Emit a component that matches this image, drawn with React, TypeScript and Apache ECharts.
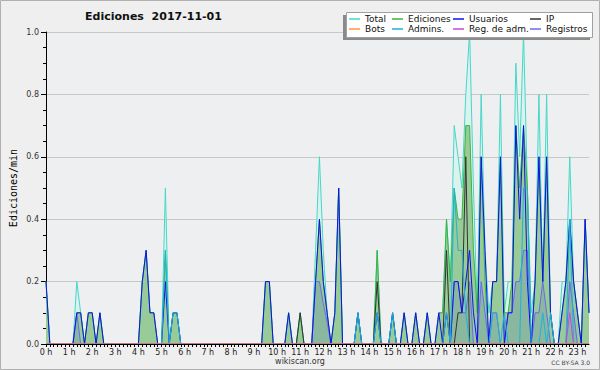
import React, { useEffect, useRef } from 'react';
import * as echarts from 'echarts';

// Hour tick labels (one every 6 ten-minute slots)
const HOUR_LABELS = [
  '0 h', '1 h', '2 h', '3 h', '4 h', '5 h', '6 h', '7 h', '8 h', '9 h', '10 h', '11 h',
  '12 h', '13 h', '14 h', '15 h', '16 h', '17 h', '18 h', '19 h', '20 h', '21 h', '22 h', '23 h',
];

// Ten-minute slots, values in edits per minute (one row per hour)
const TOTAL = [
  0.2, 0, 0, 0, 0, 0,
  0, 0, 0.2, 0.1, 0, 0.1,
  0.1, 0, 0.1, 0, 0, 0,
  0, 0, 0, 0, 0, 0,
  0, 0.2, 0.3, 0.1, 0.1, 0,
  0, 0.5, 0, 0.1, 0.1, 0,
  0, 0, 0, 0, 0, 0,
  0, 0, 0, 0, 0, 0,
  0, 0, 0, 0, 0, 0,
  0, 0, 0, 0.2, 0.2, 0,
  0, 0, 0, 0.1, 0, 0,
  0.1, 0, 0, 0, 0.3, 0.6,
  0.3, 0.1, 0, 0.1, 0.5, 0,
  0, 0, 0, 0.1, 0, 0,
  0, 0, 0.3, 0, 0, 0,
  0.1, 0, 0, 0.1, 0, 0,
  0.1, 0, 0, 0.1, 0, 0,
  0.1, 0.1, 0.4, 0.2, 0.7, 0.6,
  0.5, 0.8, 1.0, 0.5, 0.1, 0.8,
  0.3, 0.1, 0.2, 0.2, 0.8, 0.1,
  0.2, 0.2, 0.9, 0.6, 1.0, 0.5,
  0.1, 0.2, 0.8, 0.2, 0.8, 0.1,
  0, 0, 0.2, 0.2, 0.6, 0.2,
  0.1, 0, 0.4, 0.1,
];

const EDICIONES = [
  0.2, 0, 0, 0, 0, 0,
  0, 0, 0.1, 0.1, 0, 0.1,
  0.1, 0, 0.1, 0, 0, 0,
  0, 0, 0, 0, 0, 0,
  0, 0.2, 0.3, 0.1, 0.1, 0,
  0, 0.3, 0, 0.1, 0.1, 0,
  0, 0, 0, 0, 0, 0,
  0, 0, 0, 0, 0, 0,
  0, 0, 0, 0, 0, 0,
  0, 0, 0, 0.2, 0.2, 0,
  0, 0, 0, 0.1, 0, 0,
  0.1, 0, 0, 0, 0.2, 0.4,
  0.2, 0.1, 0, 0.1, 0.5, 0,
  0, 0, 0, 0.1, 0, 0,
  0, 0, 0.3, 0, 0, 0,
  0.1, 0, 0, 0.1, 0, 0,
  0.1, 0, 0, 0.1, 0, 0,
  0.1, 0.1, 0.4, 0.2, 0.5, 0.4,
  0.4, 0.7, 0.7, 0.3, 0.1, 0.6,
  0.2, 0, 0.2, 0.2, 0.6, 0.1,
  0.1, 0.2, 0.7, 0.5, 0.7, 0.5,
  0, 0.2, 0.6, 0.2, 0.6, 0.1,
  0, 0, 0.1, 0.2, 0.4, 0.2,
  0.1, 0, 0.4, 0.1,
];

const USUARIOS = [
  0.2, 0, 0, 0, 0, 0,
  0, 0, 0.1, 0.1, 0, 0.1,
  0.1, 0, 0.1, 0, 0, 0,
  0, 0, 0, 0, 0, 0,
  0, 0.2, 0.3, 0.1, 0.1, 0,
  0, 0.2, 0, 0.1, 0.1, 0,
  0, 0, 0, 0, 0, 0,
  0, 0, 0, 0, 0, 0,
  0, 0, 0, 0, 0, 0,
  0, 0, 0, 0.2, 0.2, 0,
  0, 0, 0, 0.1, 0, 0,
  0, 0, 0, 0, 0.2, 0.4,
  0.2, 0.1, 0, 0.1, 0.5, 0,
  0, 0, 0, 0.1, 0, 0,
  0, 0, 0.1, 0, 0, 0,
  0.1, 0, 0, 0.1, 0, 0,
  0.1, 0, 0, 0.1, 0, 0,
  0.1, 0, 0.1, 0, 0.2, 0.2,
  0.1, 0.2, 0.3, 0.1, 0, 0.6,
  0.3, 0, 0.2, 0.2, 0.6, 0,
  0.1, 0.1, 0.7, 0.4, 0.7, 0.2,
  0, 0.2, 0.6, 0.2, 0.6, 0.1,
  0, 0, 0.1, 0.2, 0.4, 0.2,
  0.1, 0, 0.4, 0.1,
];

const IP = [
  0, 0, 0, 0, 0, 0,
  0, 0, 0, 0, 0, 0,
  0, 0, 0, 0, 0, 0,
  0, 0, 0, 0, 0, 0,
  0, 0, 0, 0, 0, 0,
  0, 0, 0, 0, 0, 0,
  0, 0, 0, 0, 0, 0,
  0, 0, 0, 0, 0, 0,
  0, 0, 0, 0, 0, 0,
  0, 0, 0, 0, 0, 0,
  0, 0, 0, 0, 0, 0,
  0.1, 0, 0, 0, 0, 0,
  0, 0, 0, 0, 0, 0,
  0, 0, 0, 0, 0, 0,
  0, 0, 0.2, 0, 0, 0,
  0, 0, 0, 0, 0, 0,
  0, 0, 0, 0, 0, 0,
  0, 0, 0.3, 0, 0, 0.1,
  0.1, 0.6, 0, 0, 0, 0,
  0, 0, 0, 0, 0, 0,
  0, 0, 0, 0, 0, 0,
  0, 0, 0, 0, 0, 0,
  0, 0, 0, 0, 0, 0,
  0, 0, 0, 0,
];

const BOTS = [
  0, 0, 0, 0, 0, 0,
  0, 0, 0, 0, 0, 0,
  0, 0, 0, 0, 0, 0,
  0, 0, 0, 0, 0, 0,
  0, 0, 0, 0, 0, 0,
  0, 0, 0, 0, 0, 0,
  0, 0, 0, 0, 0, 0,
  0, 0, 0, 0, 0, 0,
  0, 0, 0, 0, 0, 0,
  0, 0, 0, 0, 0, 0,
  0, 0, 0, 0, 0, 0,
  0, 0, 0, 0, 0, 0,
  0, 0, 0, 0, 0, 0,
  0, 0, 0, 0, 0, 0,
  0, 0, 0, 0, 0, 0,
  0, 0, 0, 0, 0, 0,
  0, 0, 0, 0, 0, 0,
  0, 0, 0, 0, 0, 0,
  0, 0, 0, 0, 0, 0,
  0, 0, 0, 0, 0, 0,
  0, 0, 0, 0, 0, 0,
  0, 0, 0, 0, 0, 0,
  0, 0, 0, 0, 0, 0,
  0, 0, 0, 0,
];

const ADMINS = [
  0, 0, 0, 0, 0, 0,
  0, 0, 0, 0, 0, 0,
  0, 0, 0, 0, 0, 0,
  0, 0, 0, 0, 0, 0,
  0, 0, 0, 0, 0, 0,
  0, 0.3, 0, 0.1, 0.1, 0,
  0, 0, 0, 0, 0, 0,
  0, 0, 0, 0, 0, 0,
  0, 0, 0, 0, 0, 0,
  0, 0, 0, 0, 0, 0,
  0, 0, 0, 0, 0, 0,
  0, 0, 0, 0, 0, 0,
  0, 0, 0, 0, 0, 0,
  0, 0, 0, 0.1, 0, 0,
  0, 0, 0.1, 0, 0, 0,
  0.1, 0, 0, 0, 0, 0,
  0, 0, 0, 0, 0, 0,
  0, 0, 0.1, 0, 0.5, 0.3,
  0.3, 0.1, 0, 0, 0, 0,
  0, 0, 0.1, 0.1, 0, 0.1,
  0, 0, 0, 0, 0.5, 0.5,
  0, 0, 0, 0.1, 0, 0.1,
  0, 0, 0, 0, 0.4, 0,
  0, 0, 0, 0,
];

const REG_ADM = [
  0, 0, 0, 0, 0, 0,
  0, 0, 0, 0, 0, 0,
  0, 0, 0, 0, 0, 0,
  0, 0, 0, 0, 0, 0,
  0, 0, 0, 0, 0, 0,
  0, 0, 0, 0, 0, 0,
  0, 0, 0, 0, 0, 0,
  0, 0, 0, 0, 0, 0,
  0, 0, 0, 0, 0, 0,
  0, 0, 0, 0, 0, 0,
  0, 0, 0, 0, 0, 0,
  0, 0, 0, 0, 0, 0,
  0, 0, 0, 0, 0, 0,
  0, 0, 0, 0, 0, 0,
  0, 0, 0, 0, 0, 0,
  0, 0, 0, 0, 0, 0,
  0, 0, 0, 0, 0, 0,
  0, 0, 0, 0, 0, 0,
  0, 0, 0, 0, 0, 0,
  0, 0, 0, 0, 0, 0,
  0, 0, 0, 0, 0, 0,
  0, 0, 0, 0, 0, 0,
  0, 0, 0, 0, 0.1, 0,
  0, 0, 0, 0,
];

const REGISTROS = [
  0, 0, 0, 0, 0, 0,
  0, 0, 0.1, 0, 0, 0,
  0, 0, 0, 0, 0, 0,
  0, 0, 0, 0, 0, 0,
  0, 0, 0, 0, 0, 0,
  0, 0, 0, 0, 0, 0,
  0, 0, 0, 0, 0, 0,
  0, 0, 0, 0, 0, 0,
  0, 0, 0, 0, 0, 0,
  0, 0, 0, 0, 0, 0,
  0, 0, 0, 0, 0, 0,
  0, 0, 0, 0, 0.2, 0.2,
  0.13, 0.07, 0, 0, 0, 0,
  0, 0, 0, 0, 0, 0,
  0, 0, 0, 0, 0, 0,
  0, 0, 0, 0, 0, 0,
  0, 0, 0, 0, 0, 0,
  0, 0, 0, 0, 0.2, 0.2,
  0.1, 0.1, 0.2, 0, 0, 0.2,
  0.1, 0, 0.1, 0.1, 0, 0,
  0.1, 0.1, 0.2, 0.2, 0.3, 0.3,
  0, 0.1, 0.1, 0.2, 0.1, 0,
  0, 0, 0, 0, 0.2, 0.1,
  0, 0, 0, 0,
];

const FONT = 'DejaVu Sans';

function lineSeries(name: string, values: number[], color: string, z: number, area?: string) {
  return {
    type: 'line',
    name,
    data: values.map((v, i) => [i, v]),
    color,
    symbol: 'none',
    showSymbol: false,
    lineStyle: { width: 1, color },
    areaStyle: area ? { color: area, opacity: 1 } : undefined,
    z,
    silent: true,
    emphasis: { disabled: true },
  };
}

function legendCol(left: number, names: string[]) {
  return {
    orient: 'vertical',
    left,
    top: 14,
    padding: 0,
    itemGap: 0,
    itemWidth: 11,
    itemHeight: 1.5,
    icon: 'rect',
    selectedMode: false,
    z: 8,
    textStyle: { fontFamily: FONT, fontSize: 9, color: '#111', lineHeight: 10 },
    data: names,
  };
}

export default function App() {
  const ref = useRef<HTMLDivElement>(null);
  useEffect(() => {
    const chart = echarts.init(ref.current!, null, { renderer: 'svg' });
    chart.setOption({
      animation: false,
      backgroundColor: '#efefef',
      grid: {
        left: 46, right: 11, top: 32, bottom: 26,
        show: true, backgroundColor: '#eeeff1', borderWidth: 0,
        outerBoundsMode: 'none',
      },
      legend: [
        legendCol(349, ['Total', 'Bots']),
        legendCol(392, ['Ediciones', 'Admins.']),
        legendCol(453, ['Usuarios', 'Reg. de adm.']),
        legendCol(530, ['IP', 'Registros']),
      ],
      xAxis: {
        type: 'value',
        min: 0,
        max: TOTAL.length - 1,
        interval: 1,
        z: 3,
        axisLine: { show: true, onZero: false, lineStyle: { color: '#000', width: 1 } },
        axisTick: { show: true, length: 3, lineStyle: { color: '#000' } },
        axisLabel: {
          fontFamily: FONT, fontSize: 8, color: '#222', margin: 4,
          showMaxLabel: false,
          formatter: (v: number) => {
            const r = Math.round(v);
            return Math.abs(v - r) < 1e-6 && r % 6 === 0 ? HOUR_LABELS[r / 6] : '';
          },
        },
        splitLine: { show: false },
      },
      yAxis: {
        type: 'value',
        min: 0,
        max: 1,
        interval: 0.2,
        name: 'Ediciones/min',
        nameLocation: 'middle',
        nameGap: 28,
        nameRotate: 90,
        nameMoveOverlap: false,
        nameTextStyle: { fontFamily: 'DejaVu Sans Mono', fontSize: 10, color: '#000' },
        axisLine: { show: true, lineStyle: { color: '#000', width: 1 } },
        axisTick: { show: true, length: 5, lineStyle: { color: '#000' } },
        minorTick: { show: true, splitNumber: 4, length: 3, lineStyle: { color: '#000' } },
        axisLabel: {
          fontFamily: FONT, fontSize: 8, color: '#333', margin: 7,
          formatter: (v: number) => v.toFixed(1),
        },
        splitLine: { show: true, lineStyle: { color: '#c8c8c8', width: 1 } },
      },
      series: [
        lineSeries('Total', TOTAL, '#44d8c8', 2, '#dcf2ee'),
        lineSeries('Ediciones', EDICIONES, '#3cb43c', 2, '#98cb98'),
        lineSeries('Registros', REGISTROS, '#6a6aee', 2, 'rgba(60,80,200,0.16)'),
        lineSeries('IP', IP, '#333333', 2),
        lineSeries('Usuarios', USUARIOS, '#1010ee', 2),
        lineSeries('Admins.', ADMINS, '#1eb2dc', 2),
        lineSeries('Reg. de adm.', REG_ADM, '#cc44dd', 2),
        lineSeries('Bots', BOTS, '#ff9933', 2),
      ],
      graphic: [
        {
          type: 'rect', z: 6, silent: true,
          shape: { x: 343, y: 15, width: 247, height: 25 },
          style: { fill: '#8a8a8a' },
        },
        {
          type: 'rect', z: 7, silent: true,
          shape: { x: 346.5, y: 12.5, width: 246, height: 25 },
          style: { fill: '#ffffff', stroke: '#a0a0a0', lineWidth: 1 },
        },
        {
          type: 'text', z: 7, silent: true,
          x: 153.5, y: 16,
          style: {
            text: 'Ediciones  2017-11-01',
            fontFamily: FONT, fontWeight: 'bold', fontSize: 11, fill: '#111',
            textAlign: 'center', textVerticalAlign: 'middle',
          },
        },
        {
          type: 'text', z: 7, silent: true,
          x: 300, y: 361.5,
          style: {
            text: 'wikiscan.org',
            fontFamily: FONT, fontSize: 8, fill: '#333',
            textAlign: 'center', textVerticalAlign: 'middle',
          },
        },
        {
          type: 'text', z: 7, silent: true,
          x: 590, y: 362.5,
          style: {
            text: 'CC BY-SA 3.0',
            fontFamily: FONT, fontSize: 6, fill: '#444',
            textAlign: 'right', textVerticalAlign: 'middle',
          },
        },
        {
          type: 'rect', z: 20, silent: true,
          shape: { x: 0.5, y: 0.5, width: 599, height: 369 },
          style: { fill: 'none', stroke: '#b0b0b0', lineWidth: 1 },
        },
      ],
    });
    return () => chart.dispose();
  }, []);
  return (
    <div
      ref={ref}
      style={{ position: 'fixed', left: 0, top: 0, width: 600, height: 370 }}
    />
  );
}
